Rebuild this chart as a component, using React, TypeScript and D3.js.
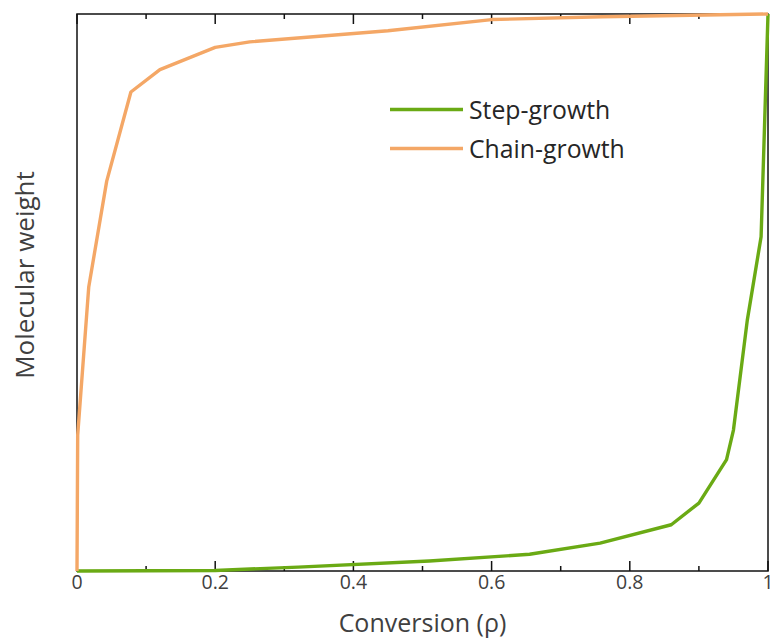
import React from "react";
import * as d3 from "d3";

const seriesNames = ["Step-growth", "Chain-growth"];
const seriesColors = ["#6aaa14", "#f4a766"];

const stepX = [0, 0.1, 0.2, 0.32, 0.51, 0.655, 0.757, 0.86, 0.9, 0.94, 0.95, 0.97, 0.99, 1.0];
const stepY = [0, 0.0005, 0.001, 0.007, 0.018, 0.03, 0.05, 0.083, 0.122, 0.2, 0.253, 0.45, 0.6, 1.0];

const chainX = [0, 0.001, 0.017, 0.043, 0.078, 0.12, 0.2, 0.25, 0.45, 0.6, 0.76, 1.0];
const chainY = [0, 0.244, 0.51, 0.7, 0.86, 0.9, 0.94, 0.95, 0.97, 0.99, 0.995, 1.0];

const majorTicks = [0, 0.2, 0.4, 0.6, 0.8, 1];
const minorTicks = [0.1, 0.3, 0.5, 0.7, 0.9];
const tickLabels = ["0", "0.2", "0.4", "0.6", "0.8", "1"];

const xTitle = "Conversion (ρ)";
const yTitle = "Molecular weight";

const W = 771;
const H = 639;
const L = 77, R = 768, T = 14, B = 571;
const FONT = "'Open Sans', 'Noto Sans', sans-serif";

export default function App() {
  const x = d3.scaleLinear().domain([0, 1]).range([L, R]);
  const y = d3.scaleLinear().domain([0, 1]).range([B, T]);
  const line = d3.line<[number, number]>().x(d => x(d[0])).y(d => y(d[1]));
  const step: [number, number][] = stepX.map((v, i) => [v, stepY[i]]);
  const chain: [number, number][] = chainX.map((v, i) => [v, chainY[i]]);
  const series = [step, chain];

  return (
    <svg width={W} height={H} style={{ position: "absolute", left: 0, top: 0 }}>
      <rect x={0} y={0} width={W} height={H} fill="#fff" />
      {majorTicks.map((t, i) => (
        <g key={"M" + i}>
          <line x1={x(t)} x2={x(t)} y1={B} y2={B - 10} stroke="#111" strokeWidth={1.5} />
          <line x1={x(t)} x2={x(t)} y1={T} y2={T + 10} stroke="#111" strokeWidth={1.5} />
          <text x={x(t)} y={589} textAnchor="middle" fontFamily={FONT} fontSize={19.5} fill="#404040">
            {tickLabels[i]}
          </text>
        </g>
      ))}
      {minorTicks.map((t, i) => (
        <g key={"m" + i}>
          <line x1={x(t)} x2={x(t)} y1={B} y2={B - 5} stroke="#111" strokeWidth={1.5} />
          <line x1={x(t)} x2={x(t)} y1={T} y2={T + 5} stroke="#111" strokeWidth={1.5} />
        </g>
      ))}
      <rect x={L} y={T} width={R - L} height={B - T} fill="none" stroke="#111" strokeWidth={1.5} />
      {series.map((s, i) => (
        <path key={i} d={line(s) || ""} fill="none" stroke={seriesColors[i]} strokeWidth={3.4} strokeLinejoin="round" />
      ))}
      {seriesNames.map((n, i) => (
        <g key={"l" + i}>
          <line x1={390} x2={463} y1={109.5 + i * 39} y2={109.5 + i * 39} stroke={seriesColors[i]} strokeWidth={3.6} />
          <text x={469} y={118.5 + i * 39} fontFamily={FONT} fontSize={24.8} fill="#262626">{n}</text>
        </g>
      ))}
      <text x={(L + R) / 2} y={632} textAnchor="middle" fontFamily={FONT} fontSize={25} fill="#404040">{xTitle}</text>
      <text transform={`translate(34,275) rotate(-90)`} textAnchor="middle" fontFamily={FONT} fontSize={26} fill="#404040">{yTitle}</text>
    </svg>
  );
}
